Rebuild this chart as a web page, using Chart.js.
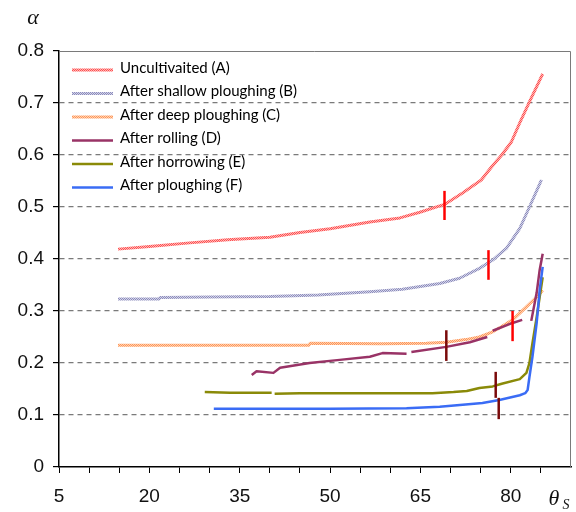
<!DOCTYPE html>
<html>
<head>
<meta charset="utf-8">
<script src="https://cdn.jsdelivr.net/npm/chart.js@4/dist/chart.umd.min.js"></script>
<style>
    html, body { margin: 0; padding: 0; background: #fff; }
    #wrap { width: 576px; height: 512px; }
</style>
</head>
<body>
<div id="wrap"><canvas id="myChart" width="576" height="512"></canvas></div>
<script>
// series names (legend)
const seriesNames = [
    'Uncultivaited (A)',
    'After shallow ploughing (B)',
    'After deep ploughing (C)',
    'After rolling (D)',
    'After horrowing (E)',
    'After ploughing (F)'
];

// [theta, alpha] pairs, null alpha = break in the line
const uncultivated = [[14.8, 0.419], [20, 0.424], [26.7, 0.431], [33, 0.437], [40, 0.442], [45, 0.451], [50, 0.458],
    [56.6, 0.471], [61.6, 0.479], [64.9, 0.49], [69, 0.505], [72, 0.527], [75.1, 0.552], [76.8, 0.577],
    [78.5, 0.6], [80.1, 0.625], [81.5, 0.662], [83.1, 0.702], [85.3, 0.756]];
const shallowPloughing = [[14.8, 0.323], [21.6, 0.323], [21.8, 0.326], [30, 0.327], [40, 0.328], [48, 0.331],
    [56.6, 0.337], [62, 0.342], [68.2, 0.353], [71.5, 0.363], [74.8, 0.382], [77, 0.398], [79.3, 0.421],
    [81.5, 0.459], [83.1, 0.5], [85.1, 0.552]];
const deepPloughing = [[14.8, 0.234], [30, 0.234], [46.5, 0.234], [46.7, 0.238], [58.5, 0.237], [66, 0.238],
    [69.3, 0.24], [72.5, 0.245], [74.8, 0.25], [77, 0.26], [78.5, 0.27], [80.3, 0.283], [82.6, 0.308],
    [84.3, 0.327], [85.3, 0.34]];
const rolling = [[37.0, 0.177], [37.8, 0.184], [40.6, 0.181], [41.7, 0.191], [46.6, 0.2], [51.6, 0.206],
    [56.6, 0.212], [58.7, 0.219], [62.7, 0.218], [63.1, null], [63.5, 0.221], [69.3, 0.231], [73.2, 0.24],
    [76.1, 0.25], [76.5, null], [77, 0.262], [80.3, 0.277], [81.9, 0.283], [82.6, null], [83.4, 0.281],
    [84.3, 0.335], [84.8, 0.379], [85.3, 0.41]];
const horrowing = [[29.2, 0.144], [33.4, 0.143], [40.3, 0.143], [40.5, null], [40.8, 0.141], [45, 0.142],
    [56, 0.142], [67, 0.142], [70.5, 0.144], [72.7, 0.146], [74.8, 0.152], [77, 0.155], [78.5, 0.16],
    [81.5, 0.169], [82.6, 0.181], [83.1, 0.2], [83.6, 0.238], [84.3, 0.288], [84.8, 0.327], [85.3, 0.365]];
const ploughing = [[30.7, 0.112], [40, 0.112], [50, 0.112], [62.7, 0.113], [68.2, 0.116], [72.5, 0.12],
    [75.3, 0.123], [78.1, 0.129], [81.5, 0.138], [82.4, 0.142], [82.8, 0.148], [83.1, 0.173], [83.6, 0.212],
    [84.3, 0.277], [84.8, 0.34], [85.3, 0.385]];

// vertical marks on the curves
const markerX = [69.0, 76.3, 80.3, 69.3, 77.5, 78.0];
const markerLow = [0.475, 0.36, 0.242, 0.204, 0.133, 0.092];
const markerHigh = [0.531, 0.417, 0.30, 0.263, 0.183, 0.133];

// axis ticks
const xTicks = [5, 10, 15, 20, 25, 30, 35, 40, 45, 50, 55, 60, 65, 70, 75, 80, 85];
const xLabels = [5, 20, 35, 50, 65, 80];
const yTicks = [0, 0.1, 0.2, 0.3, 0.4, 0.5, 0.6, 0.7, 0.8];

const allSeries = [uncultivated, shallowPloughing, deepPloughing, rolling, horrowing, ploughing];
const lineColors = ['#ff5050', '#8c8cbc', '#ff9658', '#993366', '#8a8a08', '#3a6cf5'];
const lightColors = ['#ffb4b4', '#d4d4e8', '#ffd0b0', null, null, null];
const markerColors = ['#ff0000', '#ff0000', '#ff0000', '#7a0a0a', '#7a0a0a', '#7a0a0a'];

// checker pattern to get the dotted/hatched look of A, B, C
function hatch(c1, c2) {
    const p = document.createElement('canvas');
    p.width = 2; p.height = 2;
    const g = p.getContext('2d');
    g.fillStyle = c2; g.fillRect(0, 0, 2, 2);
    g.fillStyle = c1; g.fillRect(0, 0, 1, 1); g.fillRect(1, 1, 1, 1);
    return g.createPattern(p, 'repeat');
}

const strokes = lineColors.map((c, i) => lightColors[i] ? hatch(c, lightColors[i]) : c);

const datasets = allSeries.map((s, i) => ({
    label: seriesNames[i],
    data: s.map(p => ({ x: p[0], y: p[1] })),
    borderColor: strokes[i],
    borderWidth: i < 3 ? 3 : 2.5,
    pointRadius: 0,
    tension: 0,
    spanGaps: false,
    borderJoinStyle: 'round',
    order: 6 - i
}));

markerX.forEach((x, i) => {
    datasets.push({
        label: 'mark' + i,
        isMarker: true,
        data: [{ x: x, y: markerLow[i] }, { x: x, y: markerHigh[i] }],
        borderColor: markerColors[i],
        borderWidth: 2.5,
        pointRadius: 0,
        order: 0
    });
});

const frameAndTexts = {
    id: 'frameAndTexts',
    afterDraw(chart) {
        const ctx = chart.ctx;
        const a = chart.chartArea;
        ctx.save();
        // top and right frame
        ctx.strokeStyle = '#7a7a7a';
        ctx.lineWidth = 1;
        ctx.beginPath();
        ctx.moveTo(a.left, a.top + 0.5);
        ctx.lineTo(a.right - 0.5, a.top + 0.5);
        ctx.lineTo(a.right - 0.5, a.bottom);
        ctx.stroke();

        // legend inside the plot
        ctx.font = '15px Lato';
        ctx.textBaseline = 'middle';
        ctx.fillStyle = '#000';
        chart.data.datasets.forEach((ds, i) => {
            if (ds.isMarker) return;
            const y = 70 + i * 23.5;
            ctx.strokeStyle = ds.borderColor;
            ctx.lineWidth = i < 3 ? 3 : 2.5;
            ctx.beginPath();
            ctx.moveTo(72, y);
            ctx.lineTo(113, y);
            ctx.stroke();
            ctx.fillText(ds.label, 120, y - 2);
        });

        // axis symbols
        ctx.fillStyle = '#111';
        ctx.textAlign = 'center';
        ctx.font = 'italic 22px "Liberation Serif"';
        ctx.fillText('α', 33, 18);
        ctx.fillText('θ', 554, 499);
        ctx.font = 'italic 14px "Liberation Serif"';
        ctx.fillText('S', 566, 505);
        ctx.restore();
    }
};

const ctx = document.getElementById('myChart').getContext('2d');

new Chart(ctx, {
    type: 'line',
    data: { datasets: datasets },
    plugins: [frameAndTexts],
    options: {
        responsive: false,
        animation: false,
        layout: { padding: { top: 51, right: 5, left: 0, bottom: 0 } },
        plugins: {
            legend: { display: false },
            tooltip: { enabled: false }
        },
        scales: {
            x: {
                type: 'linear',
                min: 5,
                max: 90,
                afterBuildTicks: scale => { scale.ticks = xTicks.map(v => ({ value: v })); },
                afterFit: scale => { scale.height = 45; },
                ticks: {
                    autoSkip: false,
                    maxRotation: 0,
                    padding: 12,
                    color: '#111',
                    font: { family: 'Liberation Sans', size: 19 },
                    callback: value => xLabels.includes(value) ? String(value) : ''
                },
                grid: { drawOnChartArea: false, tickLength: 6, tickColor: '#000' },
                border: { color: '#000', width: 1.5 }
            },
            y: {
                min: 0,
                max: 0.8,
                afterBuildTicks: scale => { scale.ticks = yTicks.map(v => ({ value: v })); },
                afterFit: scale => { scale.width = 59; },
                ticks: {
                    padding: 9,
                    color: '#111',
                    font: { family: 'Liberation Sans', size: 19 },
                    callback: value => value === 0 ? '0' : value.toFixed(1)
                },
                grid: {
                    color: c => (c.tick && (c.tick.value === 0 || c.tick.value === 0.8)) ? 'rgba(0,0,0,0)' : '#7a7a7a',
                    lineWidth: 1.2,
                    tickLength: 6,
                    tickColor: '#000'
                },
                border: { color: '#000', width: 1.5, dash: [5, 4] }
            }
        }
    }
});
</script>
</body>
</html>
